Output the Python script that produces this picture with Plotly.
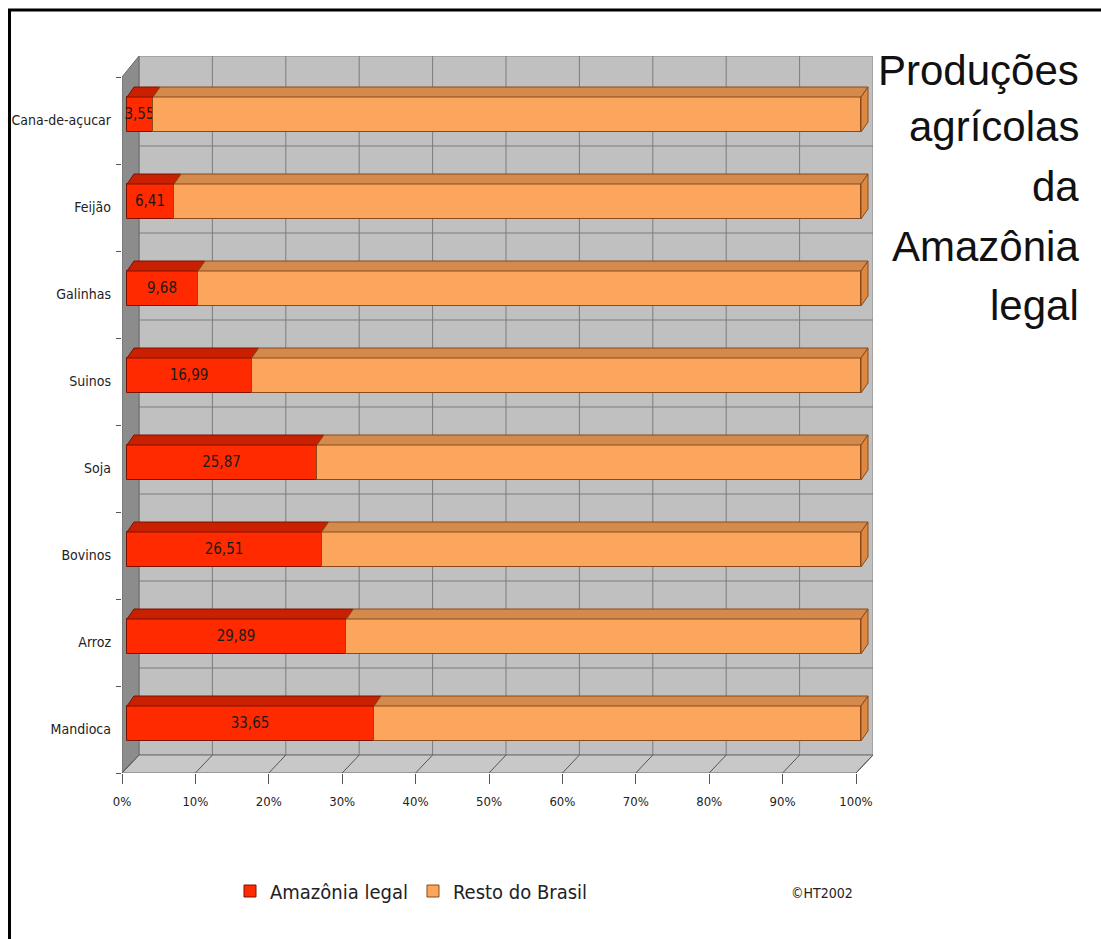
import plotly.graph_objects as go

# ---------------- data ----------------
categories = ["Mandioca", "Arroz", "Bovinos", "Soja", "Suinos", "Galinhas", "Feijão", "Cana-de-açucar"]
amazonia_legal = [33.65, 29.89, 26.51, 25.87, 16.99, 9.68, 6.41, 3.55]
resto_do_brasil = [66.35, 70.11, 73.49, 74.13, 83.01, 90.32, 93.59, 96.45]
x_ticks = [0, 10, 20, 30, 40, 50, 60, 70, 80, 90, 100]
x_tick_labels = ["0%", "10%", "20%", "30%", "40%", "50%", "60%", "70%", "80%", "90%", "100%"]
title_lines = ["Produções", "agrícolas", "da", "Amazônia", "legal"]
series_names = ["Amazônia legal", "Resto do Brasil"]
credit = "©HT2002"

# ---------------- geometry (pixels -> axis units) ----------------
W, H = 1101, 939
L, R_PX, T, B = 122, 873, 56, 773
PX_X = (856 - 122) / 100.0        # pixels per percent (front plane)
PX_Y = 87.0                       # pixels per category
XMAX = (R_PX - L) / PX_X
YMIN = -0.5
YMAX = YMIN + (B - T) / PX_Y
WDX, WDY = 17 / PX_X, 18 / PX_Y   # wall depth
BDX, BDY = 5 / PX_X, 6 / PX_Y     # bar front offset
DDX, DDY = 7 / PX_X, 10 / PX_Y    # bar depth
BAR_W = 35 / PX_Y

def xp(px):
    return (px - L) / (R_PX - L)

def yp(py):
    return (B - py) / (B - T)

NARROW = "Liberation Sans Narrow, Arial Narrow, DejaVu Sans Condensed, sans-serif"
SANS = "Liberation Sans, Arial, sans-serif"

RED = "#ff2a00"
RED_TOP = "#c82000"
RED_LINE = "#7a1200"
ORA = "#fca55c"
ORA_TOP = "#d48a4c"
ORA_END = "#dc8840"
ORA_LINE = "#8a4a1a"

idx = list(range(len(categories)))
ypos = [i + BDY for i in idx]

fig = go.Figure()
fig.add_trace(go.Bar(
    name=series_names[0], orientation="h", y=ypos, x=amazonia_legal,
    base=[BDX] * len(idx), width=BAR_W,
    marker=dict(color=RED, line=dict(color=RED_LINE, width=1)),
    text=[f"{v:.2f}".replace(".", ",") for v in amazonia_legal],
    textposition="inside", insidetextanchor="middle", textangle=0,
    constraintext="none",
    textfont=dict(family=NARROW, size=15, color="#1a1a1a"),
    hoverinfo="skip",
))
fig.add_trace(go.Bar(
    name=series_names[1], orientation="h", y=ypos, x=resto_do_brasil,
    base=[BDX + v for v in amazonia_legal], width=BAR_W,
    marker=dict(color=ORA, line=dict(color=ORA_LINE, width=1)),
    hoverinfo="skip",
))

shapes = []
def poly(pts, fill, line, lw=1, layer="below", xref="x", yref="y"):
    d = "M " + " L ".join(f"{a},{b}" for a, b in pts) + " Z"
    shapes.append(dict(type="path", path=d, xref=xref, yref=yref,
                       fillcolor=fill, line=dict(color=line, width=lw), layer=layer))

def seg(x0, y0, x1, y1, color, lw=1, layer="below"):
    shapes.append(dict(type="line", x0=x0, y0=y0, x1=x1, y1=y1, xref="x", yref="y",
                       line=dict(color=color, width=lw), layer=layer))

# back wall
poly([(WDX, YMIN + WDY), (XMAX, YMIN + WDY), (XMAX, YMAX), (WDX, YMAX)], "#c0c0c0", "#8a8a8a")
for k in x_ticks[1:-1]:
    seg(k + WDX, YMIN + WDY, k + WDX, YMAX, "#7c7c7c")
for k in idx[1:]:
    seg(WDX, k - 0.5 + WDY, XMAX, k - 0.5 + WDY, "#7c7c7c")
# left wall
poly([(0, YMIN), (0, len(idx) - 0.5), (WDX, YMAX), (WDX, YMIN + WDY)], "#8c8c8c", "#6a6a6a")
# floor
poly([(0, YMIN), (100, YMIN), (100 + WDX, YMIN + WDY), (WDX, YMIN + WDY)], "#c8c8c8", "#6a6a6a")
for k in x_ticks:
    seg(k, YMIN, k + WDX, YMIN + WDY, "#555555")

# 3D faces of the bars
for y, a, r in zip(ypos, amazonia_legal, resto_do_brasil):
    y0, y1 = y - BAR_W / 2, y + BAR_W / 2
    x0, x1, x2 = BDX, BDX + a, BDX + a + r
    poly([(x0, y1), (x1, y1), (x1 + DDX, y1 + DDY), (x0 + DDX, y1 + DDY)], RED_TOP, RED_LINE, layer="above")
    poly([(x1, y1), (x2, y1), (x2 + DDX, y1 + DDY), (x1 + DDX, y1 + DDY)], ORA_TOP, ORA_LINE, layer="above")
    poly([(x2, y0), (x2, y1), (x2 + DDX, y1 + DDY), (x2 + DDX, y0 + DDY)], ORA_END, ORA_LINE, layer="above")

# frame lines (top and left)
shapes.append(dict(type="line", xref="paper", yref="paper", x0=xp(8), x1=xp(1101), y0=yp(10), y1=yp(10),
                   line=dict(color="black", width=3)))
shapes.append(dict(type="line", xref="paper", yref="paper", x0=xp(9.5), x1=xp(9.5), y0=yp(10), y1=yp(939),
                   line=dict(color="black", width=3)))

annotations = []
title_centers = [70, 127, 187, 247, 305]
for txt, cy in zip(title_lines, title_centers):
    annotations.append(dict(text=txt, xref="paper", yref="paper", x=xp(1081), y=yp(cy),
                            xanchor="right", yanchor="middle", showarrow=False,
                            font=dict(family=SANS, size=42, color="#111111")))
annotations.append(dict(text=credit, xref="paper", yref="paper", x=xp(822), y=yp(893),
                        xanchor="center", yanchor="middle", showarrow=False,
                        font=dict(family=NARROW, size=14, color="#222222")))

fig.update_layout(
    width=W, height=H, autosize=False,
    margin=dict(l=L, r=W - R_PX, t=T, b=H - B, pad=0, autoexpand=False),
    paper_bgcolor="white", plot_bgcolor="white",
    barmode="overlay", bargap=0,
    shapes=shapes, annotations=annotations,
    showlegend=True,
    legend=dict(orientation="h", x=xp(230), y=yp(891), xanchor="left", yanchor="middle",
                font=dict(family=NARROW, size=20, color="#222222"),
                itemwidth=30, bgcolor="rgba(0,0,0,0)", traceorder="normal"),
    xaxis=dict(range=[0, XMAX], tickmode="array", tickvals=x_ticks, ticktext=x_tick_labels,
               showgrid=False, zeroline=False, showline=False, automargin=False,
               ticks="outside", ticklen=10, tickcolor="#555555",
               ticklabelstandoff=6,
               tickfont=dict(family=NARROW, size=13, color="#222222"), fixedrange=True),
    yaxis=dict(range=[YMIN, YMAX], tickmode="array", tickvals=idx, ticktext=categories,
               showgrid=False, zeroline=False, showline=False, ticks="", automargin=False,
               minor=dict(tickmode="linear", tick0=-0.5, dtick=1, ticks="outside",
                          ticklen=5, tickcolor="#555555", showgrid=False),
               ticklabelstandoff=10,
               tickfont=dict(family=NARROW, size=14, color="#222222"), fixedrange=True),
)

fig.write_html("out.html")
